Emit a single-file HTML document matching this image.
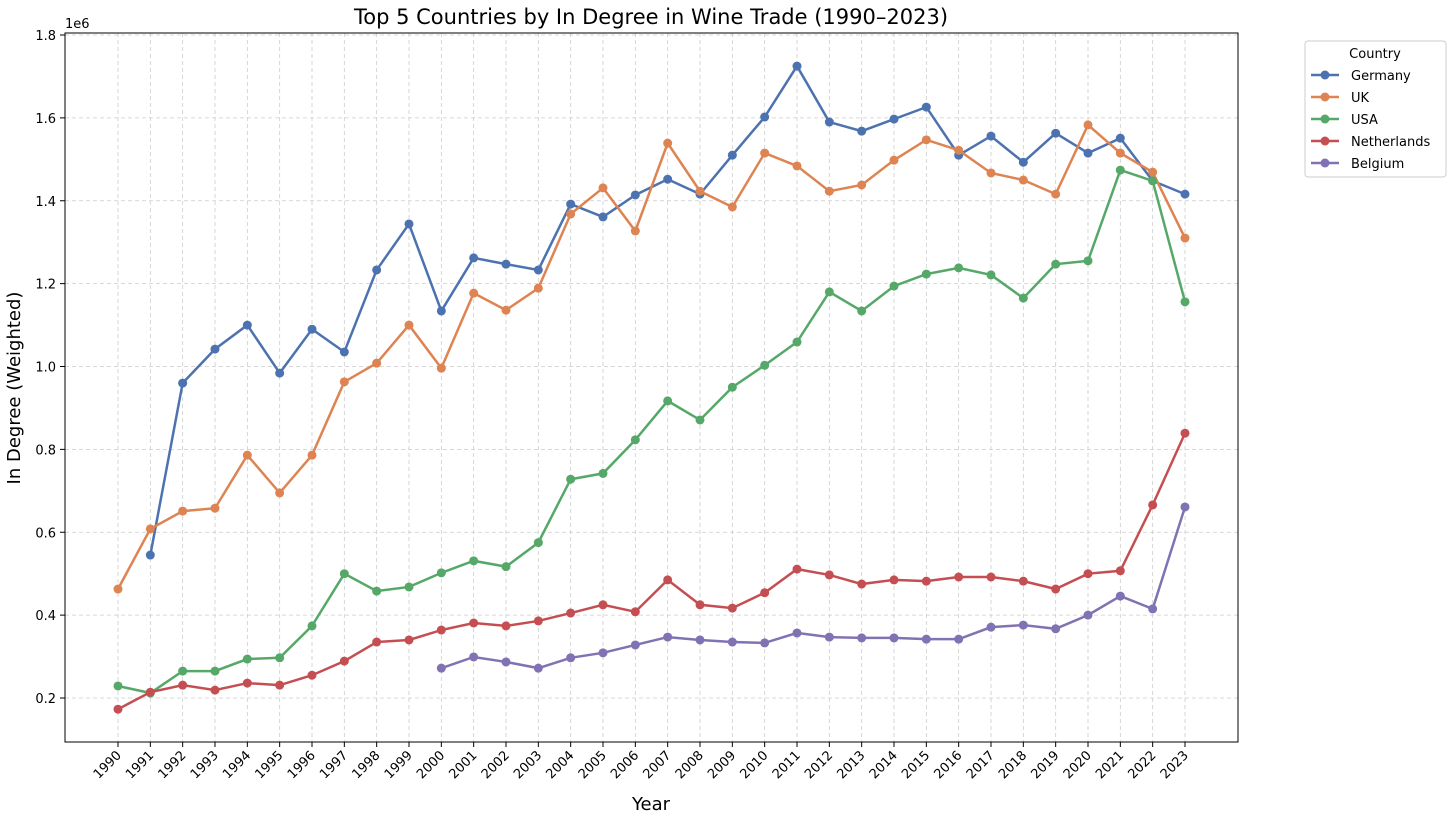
<!DOCTYPE html>
<html><head><meta charset="utf-8"><style>
body{margin:0;background:#fff;font-family:"Liberation Sans","DejaVu Sans",sans-serif}
svg text{font-family:"DejaVu Sans","Liberation Sans",sans-serif}
</style></head><body>
<svg id="chart" width="1450" height="819" xmlns="http://www.w3.org/2000/svg">
<rect width="1450" height="819" fill="#fff"/>
<text x="651" y="24" text-anchor="middle" font-size="21">Top 5 Countries by In Degree in Wine Trade (1990–2023)</text>
<text x="65" y="28" font-size="13">1e6</text>
<text transform="translate(20,388) rotate(-90)" text-anchor="middle" font-size="18">In Degree (Weighted)</text>
<text x="651" y="810" text-anchor="middle" font-size="18">Year</text>
<g id="grid"></g><g id="axes"></g><g id="series"></g>
<rect x="65" y="33" width="1173" height="709" fill="none" stroke="#000" stroke-width="1"/>
<g id="legend"></g>
</svg>
<script>
const years=[];for(let y=1990;y<=2023;y++)years.push(y);
const yTicks=[0.2,0.4,0.6,0.8,1.0,1.2,1.4,1.6,1.8];
const seriesNames=["Germany","UK","USA","Netherlands","Belgium"];
const germany=[null,0.545,0.96,1.042,1.1,0.984,1.09,1.035,1.233,1.344,1.134,1.262,1.247,1.233,1.392,1.361,1.414,1.452,1.416,1.51,1.602,1.725,1.59,1.568,1.597,1.626,1.51,1.556,1.493,1.563,1.515,1.551,1.448,1.416];
const uk=[0.463,0.608,0.651,0.658,0.786,0.695,0.786,0.963,1.008,1.1,0.996,1.177,1.136,1.189,1.368,1.431,1.327,1.539,1.423,1.385,1.515,1.484,1.423,1.438,1.498,1.547,1.522,1.467,1.45,1.416,1.583,1.515,1.469,1.31];
const usa=[0.229,0.212,0.265,0.265,0.294,0.297,0.374,0.5,0.458,0.468,0.502,0.531,0.517,0.575,0.728,0.742,0.823,0.917,0.871,0.95,1.003,1.059,1.18,1.134,1.194,1.223,1.238,1.221,1.165,1.247,1.255,1.474,1.448,1.156];
const netherlands=[0.173,0.214,0.231,0.219,0.236,0.231,0.255,0.289,0.335,0.34,0.364,0.381,0.374,0.386,0.405,0.425,0.408,0.485,0.425,0.417,0.454,0.511,0.497,0.475,0.485,0.482,0.492,0.492,0.482,0.463,0.5,0.507,0.666,0.839];
const belgium=[null,null,null,null,null,null,null,null,null,null,0.272,0.299,0.287,0.272,0.297,0.309,0.328,0.347,0.34,0.335,0.333,0.357,0.347,0.345,0.345,0.342,0.342,0.371,0.376,0.367,0.4,0.446,0.415,0.661];
const seriesData=[germany,uk,usa,netherlands,belgium];
const colors=["#4C72B0","#DD8452","#55A868","#C44E52","#8172B3"];
const NS="http://www.w3.org/2000/svg";
function X(yr){return 118+(yr-1990)*(1185-118)/33;}
function Y(v){return 698-(v-0.2)*(698-35)/1.6;}
function mk(t,a,p){const e=document.createElementNS(NS,t);for(const k in a)e.setAttribute(k,a[k]);p.appendChild(e);return e;}
const grid=document.getElementById('grid'),axes=document.getElementById('axes'),ser=document.getElementById('series'),leg=document.getElementById('legend');
years.forEach(yr=>{
 const x=X(yr);
 const g=mk('line',{x1:x,x2:x,y1:33,y2:742,stroke:'#ccc','stroke-dasharray':'4,3','stroke-width':0.8},grid);
 
 const t=mk('line',{x1:x,x2:x,y1:742,y2:747,stroke:'#000'},axes);
 
 const l=mk('text',{transform:`translate(${x+4},${756}) rotate(-45)`,'text-anchor':'end','font-size':13},axes);
 l.textContent=yr;
 
});
yTicks.forEach(v=>{
 const y=Y(v);
 const g=mk('line',{x1:65,x2:1238,y1:y,y2:y,stroke:'#ccc','stroke-dasharray':'4,3','stroke-width':0.8},grid);
 
 const t=mk('line',{x1:60,x2:65,y1:y,y2:y,stroke:'#000'},axes);
 
 const l=mk('text',{x:56,y:y+5,'text-anchor':'end','font-size':13},axes);
 l.textContent=v.toFixed(1);
 
});
seriesData.forEach((d,i)=>{
 const g=mk('g',{},ser);
 
 
 let pts=[];d.forEach((v,j)=>{if(v!=null)pts.push([X(years[j]),Y(v)]);});
 const p=mk('polyline',{points:pts.map(q=>q.join(',')).join(' '),fill:'none',stroke:colors[i],'stroke-width':2.5},g);
 
 pts.forEach(q=>{const c=mk('circle',{cx:q[0],cy:q[1],r:4.5,fill:colors[i]},g);
  });
});
const box=mk('rect',{x:1305,y:41,width:141,height:136,rx:3,fill:'#fff',stroke:'#ccc'},leg);

const lt=mk('text',{x:1375,y:58,'text-anchor':'middle','font-size':13},leg);lt.textContent='Country';

seriesNames.forEach((n,i)=>{
 const y=75+i*22;
 const g=mk('g',{},leg);
 
 mk('line',{x1:1311,x2:1339,y1:y,y2:y,stroke:colors[i],'stroke-width':2.5},g);
 mk('circle',{cx:1325,cy:y,r:4.5,fill:colors[i]},g);
 const t=mk('text',{x:1351,y:y+5,'font-size':13},g);t.textContent=n;
});
</script>
</body></html>
